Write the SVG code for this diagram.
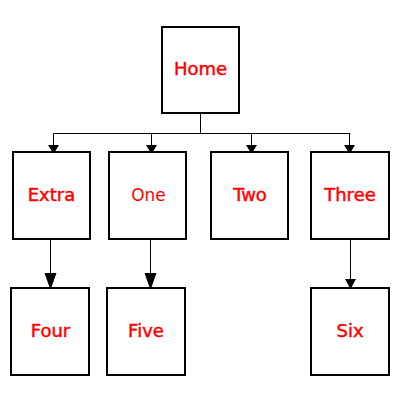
<svg xmlns="http://www.w3.org/2000/svg" width="400" height="400" viewBox="0 0 400 400">
<style>
.box{fill:#fff;stroke:#000;stroke-width:2}
.lbl{font-family:"DejaVu Sans",Verdana,sans-serif;font-size:18px;fill:#ff0000;stroke:#ff0000;stroke-width:0.45;text-anchor:middle}
.n{font-size:17px;stroke:none}
.ln{fill:none;stroke:#000;stroke-width:1}
.ah{fill:#000;stroke:none}
</style>
<rect width="400" height="400" fill="#fff"/>
<g id="connectors">
<path class="ln" d="M200.5,114 V133.5 M53.5,133.5 H350.5 M53.5,133.5 V146 M151.5,133.5 V146 M251.5,133.5 V146 M349.5,133.5 V146"/>
<path class="ln" d="M50.5,240 V274 M150.5,240 V274 M350.5,240 V280"/>
<polygon class="ah" points="48,145 59,145 53.5,154"/>
<polygon class="ah" points="146,145 157,145 151.5,154"/>
<polygon class="ah" points="246,145 257,145 251.5,154"/>
<polygon class="ah" points="344,145 355,145 349.5,154"/>
<polygon class="ah" points="44.5,273 56.5,273 50.5,290"/>
<polygon class="ah" points="144.5,273 156.5,273 150.5,290"/>
<polygon class="ah" points="345,279 356,279 350.5,289"/>
</g>
<g id="home"><rect class="box" x="162" y="27" width="77" height="86"/><text class="lbl" x="200.5" y="75">Home</text></g>
<g id="extra"><rect class="box" x="13" y="152" width="77" height="87"/><text class="lbl" x="51.5" y="201">Extra</text></g>
<g id="one"><rect class="box" x="109" y="152" width="77" height="87"/><text class="lbl n" x="148.5" y="201">One</text></g>
<g id="two"><rect class="box" x="211" y="152" width="77" height="87"/><text class="lbl" x="250" y="201">Two</text></g>
<g id="three"><rect class="box" x="311" y="152" width="78" height="87"/><text class="lbl" x="350" y="201">Three</text></g>
<g id="four"><rect class="box" x="11" y="288" width="78" height="87"/><text class="lbl" x="50.5" y="337">Four</text></g>
<g id="five"><rect class="box" x="107" y="288" width="78" height="87"/><text class="lbl" x="146" y="337">Five</text></g>
<g id="six"><rect class="box" x="311" y="288" width="78" height="87"/><text class="lbl" x="350" y="337">Six</text></g>
</svg>
